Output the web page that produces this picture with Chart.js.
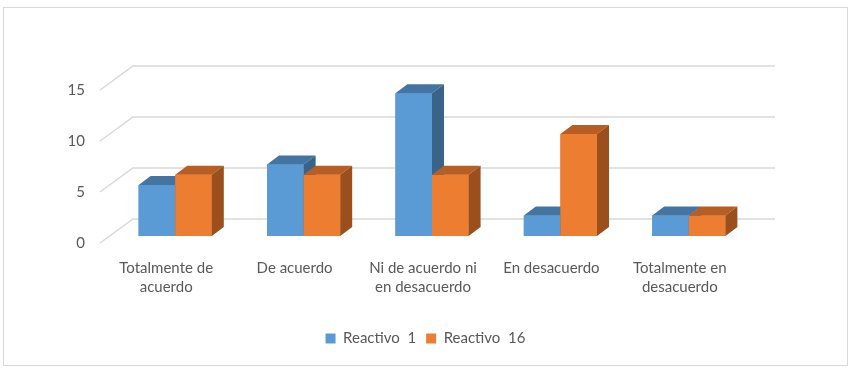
<!DOCTYPE html>
<html lang="es">
<head>
    <meta charset="UTF-8">
    <title>Reactivo 1 vs Reactivo 16</title>
    <script src="https://cdn.jsdelivr.net/npm/chart.js"></script>
    <style>
        body {
            margin: 0;
            background-color: #ffffff;
        }
        .chart-container {
            position: relative;
            width: 851px;
            height: 374px;
        }
    </style>
</head>
<body>
    <div class="chart-container">
        <canvas id="likertChart"></canvas>
    </div>
    <script>
        const categories = [
            ['Totalmente de', 'acuerdo'],
            'De acuerdo',
            ['Ni de acuerdo ni', 'en desacuerdo'],
            'En desacuerdo',
            ['Totalmente en', 'desacuerdo']
        ];
        const reactivo1 = [5, 7, 14, 2, 2];
        const reactivo16 = [6, 6, 6, 10, 2];
        const seriesNames = ['Reactivo  1', 'Reactivo  16'];
        const yTicks = [0, 5, 10, 15];

        const frontColors = ['#5b9bd5', '#ed7d31'];
        const topColors = ['#4474a1', '#b65e23'];
        const sideColors = ['#3a6389', '#9a4f1d'];

        // 3D look: offsets of the bar depth and of the back wall / floor edge
        const depth = { dx: 12, dy: -9 };
        const wallBack = { dx: 22, dy: -17 };
        const wallFront = { dx: -11, dy: 7 };

        const bars3d = {
            id: 'bars3d',
            beforeDraw(chart) {
                const ctx = chart.ctx;
                ctx.save();
                ctx.strokeStyle = '#d9d9d9';
                ctx.lineWidth = 1;
                ctx.strokeRect(3.5, 7.5, 844, 358);
                ctx.restore();
            },
            beforeDatasetsDraw(chart) {
                const ctx = chart.ctx;
                const area = chart.chartArea;
                const y = chart.scales.y;
                ctx.save();
                ctx.strokeStyle = '#d9d9d9';
                ctx.lineWidth = 1.5;
                yTicks.forEach(v => {
                    const py = y.getPixelForValue(v);
                    ctx.beginPath();
                    ctx.moveTo(area.left + wallFront.dx, py + wallFront.dy);
                    ctx.lineTo(area.left + wallBack.dx, py + wallBack.dy);
                    ctx.lineTo(area.right + wallBack.dx, py + wallBack.dy);
                    ctx.stroke();
                });
                ctx.restore();
            },
            // Chart.js paints the last dataset first; repaint here left to right
            // so each bar's front hides the side of its left neighbour
            afterDatasetsDraw(chart) {
                const ctx = chart.ctx;
                ctx.save();
                chart.data.datasets.forEach((ds, i) => {
                    const meta = chart.getDatasetMeta(i);
                    meta.data.forEach(bar => {
                        const { x, y, base, width } = bar.getProps(['x', 'y', 'base', 'width'], true);
                        const left = x - width / 2;
                        const right = x + width / 2;
                        bar.draw(ctx);
                        // top face
                        ctx.fillStyle = topColors[i];
                        ctx.beginPath();
                        ctx.moveTo(left, y);
                        ctx.lineTo(right, y);
                        ctx.lineTo(right + depth.dx, y + depth.dy);
                        ctx.lineTo(left + depth.dx, y + depth.dy);
                        ctx.closePath();
                        ctx.fill();
                        // side face
                        ctx.fillStyle = sideColors[i];
                        ctx.beginPath();
                        ctx.moveTo(right, y);
                        ctx.lineTo(right + depth.dx, y + depth.dy);
                        ctx.lineTo(right + depth.dx, base + depth.dy);
                        ctx.lineTo(right, base);
                        ctx.closePath();
                        ctx.fill();
                    });
                });
                ctx.restore();
            }
        };

        const font = { family: 'Lato, "Open Sans", sans-serif', size: 15 };
        const textColor = '#595959';

        const ctx = document.getElementById('likertChart').getContext('2d');
        new Chart(ctx, {
            type: 'bar',
            data: {
                labels: categories,
                datasets: [{
                    label: seriesNames[0],
                    data: reactivo1,
                    backgroundColor: frontColors[0],
                    borderWidth: 0
                }, {
                    label: seriesNames[1],
                    data: reactivo16,
                    backgroundColor: frontColors[1],
                    borderWidth: 0
                }]
            },
            options: {
                responsive: true,
                maintainAspectRatio: false,
                animation: false,
                categoryPercentage: 0.57,
                barPercentage: 1.0,
                layout: {
                    padding: { top: 83, left: 0, right: 0, bottom: 18 }
                },
                scales: {
                    x: {
                        grid: { display: false, drawTicks: false },
                        border: { display: false },
                        ticks: {
                            color: textColor,
                            font: { ...font, lineHeight: 1.3 },
                            padding: 22,
                            labelOffset: -9,
                            maxRotation: 0,
                            autoSkip: false
                        },
                        afterFit(scale) { scale.height = 85; }
                    },
                    y: {
                        min: 0,
                        max: 15,
                        grid: { display: false, drawTicks: false },
                        border: { display: false },
                        ticks: {
                            stepSize: 5,
                            color: textColor,
                            font: font,
                            padding: 26,
                            labelOffset: 7
                        },
                        afterFit(scale) { scale.width = 111; }
                    },
                    // empty right axis only keeps room for the 3D back wall
                    y2: {
                        position: 'right',
                        grid: { display: false, drawTicks: false },
                        border: { display: false },
                        ticks: { display: false },
                        afterFit(scale) { scale.width = 98; }
                    }
                },
                plugins: {
                    legend: {
                        position: 'bottom',
                        labels: {
                            color: textColor,
                            font: font,
                            boxWidth: 10,
                            boxHeight: 10,
                            padding: 10
                        }
                    },
                    tooltip: { enabled: false }
                }
            },
            plugins: [bars3d]
        });
    </script>
</body>
</html>
